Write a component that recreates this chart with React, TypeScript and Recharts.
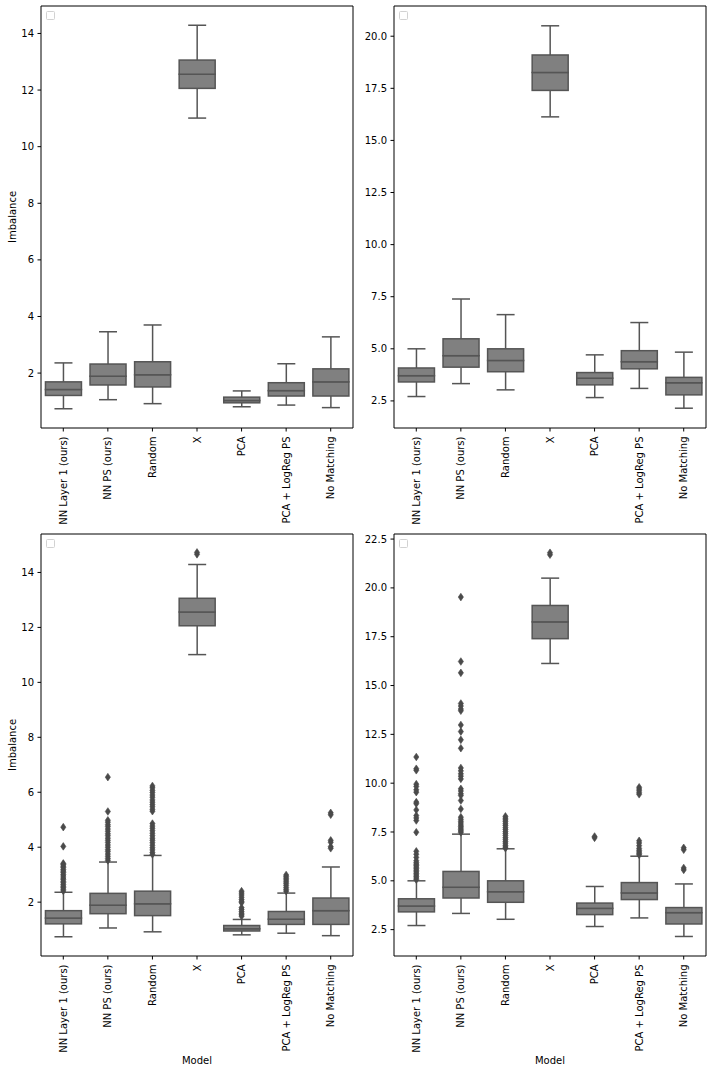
import { ComposedChart, Bar, Scatter, XAxis, YAxis, ReferenceLine } from "recharts";

const FONT = "'DejaVu Sans', sans-serif";
const LINE = "#555555";
const FILL = "#808080";

const models = [
  "NN Layer 1 (ours)",
  "NN PS (ours)",
  "Random",
  "X",
  "PCA",
  "PCA + LogReg PS",
  "No Matching",
];

// left column: box stats (whisker low, q1, median, q3, whisker high)
const lowL = [0.74, 1.06, 0.92, 11.01, 0.81, 0.87, 0.78];
const q1L = [1.21, 1.58, 1.51, 12.06, 0.95, 1.19, 1.19];
const medL = [1.42, 1.89, 1.94, 12.56, 1.03, 1.38, 1.69];
const q3L = [1.69, 2.32, 2.4, 13.06, 1.15, 1.66, 2.15];
const highL = [2.36, 3.46, 3.7, 14.29, 1.37, 2.33, 3.28];

// right column
const lowR = [2.71, 3.33, 3.03, 16.13, 2.66, 3.1, 2.15];
const q1R = [3.41, 4.12, 3.9, 17.4, 3.27, 4.04, 2.79];
const medR = [3.71, 4.67, 4.44, 18.26, 3.59, 4.38, 3.37];
const q3R = [4.08, 5.48, 5.0, 19.1, 3.86, 4.91, 3.63];
const highR = [5.0, 7.39, 6.64, 20.5, 4.71, 6.26, 4.84];

// outliers (bottom row only)
const fliersL: number[][] = [
  [4.73, 4.03, 3.41, 3.37, 3.31, 3.26, 3.19, 3.13, 3.08, 3.01, 2.95, 2.88, 2.83, 2.76, 2.71, 2.64, 2.58, 2.53, 2.47, 2.41],
  [6.55, 5.3, 4.98, 4.91, 4.82, 4.75, 4.66, 4.58, 4.49, 4.42, 4.33, 4.25, 4.17, 4.08, 4.0, 3.91, 3.84, 3.75, 3.67, 3.59, 3.52],
  [6.23, 6.16, 6.07, 5.99, 5.9, 5.82, 5.72, 5.64, 5.55, 5.47, 5.38, 5.31, 4.86, 4.77, 4.69, 4.6, 4.51, 4.42, 4.33, 4.25, 4.16, 4.07, 3.98, 3.9, 3.81, 3.74],
  [14.66, 14.73],
  [2.4, 2.33, 2.26, 2.18, 2.1, 2.03, 1.98, 1.8, 1.73, 1.66, 1.6, 1.54, 1.49],
  [2.99, 2.93, 2.87, 2.81, 2.74, 2.68, 2.61, 2.53, 2.46, 2.4],
  [5.25, 5.18, 4.25, 4.18, 4.02, 3.96],
];

const fliersR: number[][] = [
  [11.34, 10.74, 10.66, 9.95, 9.83, 9.66, 9.54, 9.03, 8.95, 8.63, 8.34, 8.22, 8.09, 7.49, 6.51, 6.36, 6.2, 6.03, 5.93, 5.85, 5.78, 5.7, 5.62, 5.54, 5.46, 5.38, 5.3, 5.22, 5.14, 5.06],
  [19.53, 16.23, 15.65, 14.08, 13.95, 13.8, 13.71, 12.98, 12.64, 12.22, 11.79, 10.78, 10.63, 10.48, 10.36, 10.22, 9.71, 9.6, 9.46, 9.37, 9.11, 8.68, 8.26, 8.15, 8.05, 7.96, 7.86, 7.78, 7.7, 7.62, 7.55, 7.48],
  [8.3, 8.21, 8.12, 8.03, 7.92, 7.83, 7.72, 7.63, 7.52, 7.43, 7.33, 7.22, 7.13, 7.02, 6.93, 6.82, 6.73, 6.67],
  [21.7, 21.8],
  [7.2, 7.27],
  [9.79, 9.7, 9.61, 9.51, 9.43, 7.05, 6.94, 6.8, 6.66, 6.56, 6.48, 6.4, 6.33],
  [6.69, 6.59, 5.66, 5.56],
];

const ticksL = [2, 4, 6, 8, 10, 12, 14];
const ticksR = [2.5, 5, 7.5, 10, 12.5, 15, 17.5, 20];
const ticksR2 = [2.5, 5, 7.5, 10, 12.5, 15, 17.5, 20, 22.5];

const buildRows = (low: number[], q1: number[], med: number[], q3: number[], high: number[]) =>
  models.map((model, i) => ({
    model,
    base: low[i],
    whiskLo: q1[i] - low[i],
    boxLo: med[i] - q1[i],
    boxHi: q3[i] - med[i],
    whiskHi: high[i] - q3[i],
  }));

const buildFliers = (fl: number[][]) =>
  fl.flatMap((vals, i) => vals.map((v) => ({ model: models[i], v })));

const WhiskerLo = (p: any) => {
  const { x, y, width, height } = p;
  const cx = x + width / 2;
  return (
    <g>
      <line x1={cx} x2={cx} y1={y} y2={y + height} stroke={LINE} strokeWidth={1.5} />
      <line x1={x + width / 4} x2={x + (width * 3) / 4} y1={y + height} y2={y + height} stroke={LINE} strokeWidth={1.5} />
    </g>
  );
};

const WhiskerHi = (p: any) => {
  const { x, y, width, height } = p;
  const cx = x + width / 2;
  return (
    <g>
      <line x1={cx} x2={cx} y1={y} y2={y + height} stroke={LINE} strokeWidth={1.5} />
      <line x1={x + width / 4} x2={x + (width * 3) / 4} y1={y} y2={y} stroke={LINE} strokeWidth={1.5} />
    </g>
  );
};

const BoxPart = (p: any) => {
  const { x, y, width, height } = p;
  return <rect x={x} y={y} width={width} height={height} fill={FILL} stroke={LINE} strokeWidth={1.5} />;
};

const Flier = (p: any) => {
  const { cx, cy } = p;
  if (cx == null || cy == null) return null;
  return (
    <polygon
      points={`${cx},${cy - 3.8} ${cx + 2.6},${cy} ${cx},${cy + 3.8} ${cx - 2.6},${cy}`}
      fill="#4a4a4a"
      stroke="#4a4a4a"
      strokeWidth={0.6}
    />
  );
};

const ModelTick = (p: any) => {
  const { x, y, payload } = p;
  return (
    <text
      x={x}
      y={y}
      transform={`rotate(-90, ${x}, ${y})`}
      textAnchor="end"
      dominantBaseline="central"
      fontSize={10}
      fontFamily={FONT}
      fill="#000"
    >
      {payload.value}
    </text>
  );
};

const ImbalanceLabel = (p: any) => {
  const { viewBox } = p;
  const cx = viewBox.x + 12;
  const cy = viewBox.y + viewBox.height / 2;
  return (
    <text x={cx} y={cy} transform={`rotate(-90, ${cx}, ${cy})`} textAnchor="middle" dominantBaseline="central" fontSize={10} fontFamily={FONT} fill="#000">
      Imbalance
    </text>
  );
};

const ModelLabel = (p: any) => {
  const { viewBox } = p;
  return (
    <text x={viewBox.x + viewBox.width / 2} y={viewBox.y + 104} textAnchor="middle" dominantBaseline="central" fontSize={10} fontFamily={FONT} fill="#000">
      Model
    </text>
  );
};

type PanelProps = {
  rows: any[];
  fliers: { model: string; v: number }[];
  domain: [number, number];
  ticks: number[];
  decimals: number;
  left: number;
  top: number;
  height: number;
  yWidth: number;
  rightMargin: number;
  xHeight: number;
  yLabel?: boolean;
  xLabel?: boolean;
};

function Panel(props: PanelProps) {
  const { rows, fliers, domain, ticks, decimals, left, top, height, yWidth, rightMargin, xHeight, yLabel, xLabel } = props;
  return (
    <div style={{ position: "absolute", left, top, width: 356, height }}>
      <ComposedChart
        width={356}
        height={height}
        data={rows}
        margin={{ top: 6, right: rightMargin, bottom: 0, left: 0 }}
        barCategoryGap="10%"
      >
        <XAxis
          dataKey="model"
          type="category"
          allowDuplicatedCategory={false}
          interval={0}
          tick={<ModelTick />}
          tickSize={3.5}
          tickMargin={5}
          height={xHeight}
          stroke="#000"
          label={xLabel ? <ModelLabel /> : undefined}
        />
        <YAxis
          type="number"
          domain={domain}
          allowDataOverflow
          ticks={ticks}
          tickFormatter={(v: number) => v.toFixed(decimals)}
          width={yWidth}
          tickSize={3.5}
          tickMargin={3.5}
          stroke="#000"
          tick={{ fontSize: 10, fill: "#000", fontFamily: FONT }}
          label={yLabel ? <ImbalanceLabel /> : undefined}
        />
        <Bar dataKey="base" stackId="b" fill="none" isAnimationActive={false} />
        <Bar dataKey="whiskLo" stackId="b" shape={<WhiskerLo />} isAnimationActive={false} />
        <Bar dataKey="boxLo" stackId="b" shape={<BoxPart />} isAnimationActive={false} />
        <Bar dataKey="boxHi" stackId="b" shape={<BoxPart />} isAnimationActive={false} />
        <Bar dataKey="whiskHi" stackId="b" shape={<WhiskerHi />} isAnimationActive={false} />
        {fliers.length > 0 && (
          <Scatter data={fliers} dataKey="v" shape={<Flier />} isAnimationActive={false} />
        )}
        {/* top and right frame edges */}
        <ReferenceLine y={domain[1]} stroke="#000" strokeWidth={1} ifOverflow="visible" />
        <ReferenceLine x={models[models.length - 1]} position="end" stroke="#000" strokeWidth={1} ifOverflow="visible" />
      </ComposedChart>
      <div
        style={{
          position: "absolute",
          left: yWidth + 5,
          top: 11,
          width: 7,
          height: 7,
          border: "1px solid #d2d2d2",
          borderRadius: 1.5,
          background: "#fff",
        }}
      />
    </div>
  );
}

export default function App() {
  const rowsL = buildRows(lowL, q1L, medL, q3L, highL);
  const rowsR = buildRows(lowR, q1R, medR, q3R, highR);
  return (
    <div style={{ position: "absolute", left: 0, top: 0, width: 712, height: 1072, background: "#fff", fontFamily: FONT }}>
      <Panel rows={rowsL} fliers={[]} domain={[0.06, 14.97]} ticks={ticksL} decimals={0}
        left={0} top={0} height={528} yWidth={41} rightMargin={3} xHeight={100} yLabel />
      <Panel rows={rowsR} fliers={[]} domain={[1.2, 21.45]} ticks={ticksR} decimals={1}
        left={356} top={0} height={528} yWidth={38} rightMargin={6} xHeight={100} />
      <Panel rows={rowsL} fliers={buildFliers(fliersL)} domain={[0.04, 15.4]} ticks={ticksL} decimals={0}
        left={0} top={528} height={544} yWidth={41} rightMargin={3} xHeight={116} yLabel xLabel />
      <Panel rows={rowsR} fliers={buildFliers(fliersR)} domain={[1.15, 22.76]} ticks={ticksR2} decimals={1}
        left={356} top={528} height={544} yWidth={38} rightMargin={6} xHeight={116} xLabel />
    </div>
  );
}
